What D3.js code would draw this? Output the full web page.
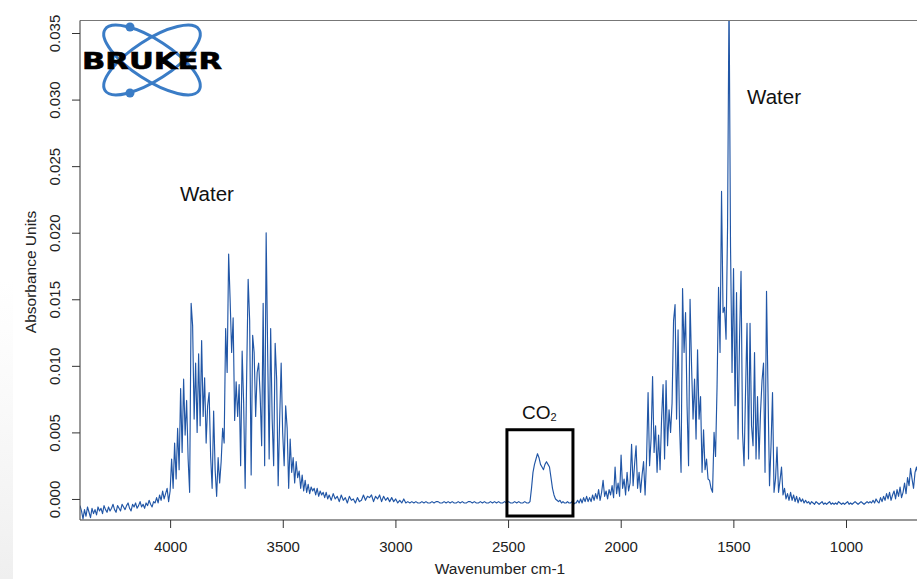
<!DOCTYPE html>
<html><head><meta charset="utf-8">
<script src="https://cdn.jsdelivr.net/npm/d3@7"></script>
<style>body{margin:0;background:#fff}svg{display:block;font-family:"Liberation Sans",Arial,sans-serif}</style>
</head><body><svg id="c" width="917" height="579"></svg>
<script>
// ---- data (absorbance values in units of 1e-4 AU) ----
const baseLeftAbs=[-5,-9,-15,-8,-13,-6,-10,-14,-7,-11,-8,-12,-6,-9,-7,-11,-5,-8,-10,-6,-9,-7,-4,-8,-10,-5,-7,-9,-4,-6,-8,-5,-3,-7,-9,-4,-6,-3,-7,-5,-2,-6,-4,-7,-3,-5,-1,-4,-6,-2,-3,1,-3,3,-1,6,0,4,8,-2,6];
const band1Abs=[6,30,8,42,15,53,22,83,35,90,48,74,30,5,147,130,60,102,50,109,55,119,62,91,42,70,80,32,8,66,22,2,31,12,28,53,42,128,95,184,149,110,136,59,88,62,86,25,111,72,8,92,165,134,18,123,110,62,95,102,78,40,147,25,200,110,30,128,60,25,117,90,10,60,102,50,25,70,53,8,45,20,31,12,28,16,21,8,18,6,14,5,11,4,9,6,8,3,8,2,6,3,5,1,5,0,3];
const midFlatAbs=[3,-1,4,0,2,-2,3,-1,1,-3,2,-1,0,-3,1,-2,-1,3,-1,2,1,3,-2,2,0,3,-2,2,-1,1,-2,1,-2,0,-3,-1,-3,0,-3,-2,-3,-2,-3,-2,-3,-3,-2,-3,-2,-3,-3,-2,-3,-2,-2,-3,-3,-2,-3,-2,-3,-2,-3,-3,-2,-3,-2,-3,-3,-2,-2,-3,-2,-3,-3,-2,-3,-2,-3,-3,-2,-3,-2,-3,-2,-3,-3,-2,-3,-2,-3,-3,-2,-3,-2,-3,-3,-2,-3];
const co2Abs=[-3,-3,-2,8,20,26,30,34,31,26,24,22,26,28,26,24,16,8,3,0,-1,-2,-1,-3,-2,-3,-3,-2,-3,-3,-2,-4,-3];
const band2Abs=[-3,-1,-3,0,-3,1,-2,2,-2,1,-2,3,-1,4,0,7,-1,5,14,2,6,0,7,3,10,1,24,4,12,2,33,8,15,3,20,6,12,41,10,26,40,8,20,5,18,28,3,30,80,25,45,92,35,55,20,48,22,60,86,30,89,40,67,50,72,134,146,60,127,55,20,158,110,140,70,25,150,100,60,90,45,112,60,77,20,52,22,30,15,14,8,5,50,32,84,159,110,231,140,144,120,203,380,189,95,173,70,155,45,120,171,50,25,80,132,30,132,55,40,110,30,77,30,65,89,102,20,156,80,10,40,80,5,15,39,5,14,24,3,8,0,4,-1];
const baseRightAbs=[5,-1,3,-2,2,-3,1,-2,0,-3,-1,-3,-2,-4,-2,-3,-4,-2,-3,-4,-3,-2,-4,-3,-4,-3,-2,-4,-3,-4,-3,-4,-2,-3,-4,-3,-4,-3,-2,-4,-3,-4,-3,-2,-3,-4,-3,-2,-3,-4,-3,-2,-3,-2,-3,-1,-3,0,-2,-3,1,-2,2,-1,4,0,5,-1,3,6,0,7,2,9,1,5,12,4,16,10,23,15,8,20,24,18,30,26];
// wavenumber span (cm-1) covered by each segment
const segFrom=[4400,4000,3294,2416,2198,1246];
const segTo  =[4000,3294,2417,2203,1253,667];
const xTicks=[4000,3500,3000,2500,2000,1500,1000];
const yTicks=[0,0.005,0.010,0.015,0.020,0.025,0.030,0.035];
const yTickLabels=["0.000","0.005","0.010","0.015","0.020","0.025","0.030","0.035"];
const labels=[{t:"Water",wn:3956,a:0.02238},{t:"Water",wn:1439,a:0.02967}];
const co2Label={wn:2438,a:0.0060};
const co2Box={wn0:2505,wn1:2212,a0:0.0052,a1:-0.00128};

const segVals=[baseLeftAbs,band1Abs,midFlatAbs,co2Abs,band2Abs,baseRightAbs];
const spectrum=[];
segVals.forEach((vals,s)=>{
  const n=vals.length;
  vals.forEach((v,i)=>spectrum.push({wn:segFrom[s]+(segTo[s]-segFrom[s])*i/(n-1),a:v*1e-4}));
});

const svg=d3.select("#c");
const L=80,R=920,T=20.5,B=520;
const x=d3.scaleLinear().domain([4400,671.6]).range([L,R]);
const y=d3.scaleLinear().domain([-0.00158,0.03594]).range([B,T]);

// faint grey strip on left edge
const defs=svg.append("defs");
const g1=defs.append("linearGradient").attr("id","lg").attr("x1",0).attr("x2",0).attr("y1",0).attr("y2",1);
g1.append("stop").attr("offset","0").attr("stop-color","#f3f3f3").attr("stop-opacity",0);
g1.append("stop").attr("offset","1").attr("stop-color","#efefef").attr("stop-opacity",1);
svg.append("rect").attr("x",0).attr("y",280).attr("width",13).attr("height",299).attr("fill","url(#lg)");

defs.append("clipPath").attr("id","clip").append("rect").attr("x",L).attr("y",T).attr("width",R-L).attr("height",B-T);

// spectrum
svg.append("path").datum(spectrum).attr("clip-path","url(#clip)")
  .attr("fill","none").attr("stroke","#2156a6").attr("stroke-width",1.15).attr("stroke-linejoin","round")
  .attr("d",d3.line().x(d=>x(d.wn)).y(d=>y(d.a)));

// frame
svg.append("line").attr("x1",L).attr("x2",917).attr("y1",T).attr("y2",T).attr("stroke","#777").attr("stroke-width",1.2);
svg.append("line").attr("x1",L).attr("x2",917).attr("y1",B).attr("y2",B).attr("stroke","#333").attr("stroke-width",1.2);
svg.append("line").attr("x1",L).attr("x2",L).attr("y1",T).attr("y2",B).attr("stroke","#555").attr("stroke-width",1.2);

// x axis
const xa=svg.append("g").attr("transform",`translate(0,${B})`)
  .call(d3.axisBottom(x).tickValues(xTicks).tickSize(8).tickSizeOuter(0).tickFormat(d3.format("d")));
xa.select(".domain").remove();
xa.selectAll("line").attr("stroke","#333");
xa.selectAll("text").attr("font-size",15).attr("fill","#222").attr("dy",0).attr("y",32)
  .attr("font-family","'Liberation Sans',Arial,sans-serif");

// y axis
const ya=svg.append("g").attr("transform",`translate(${L},0)`)
  .call(d3.axisLeft(y).tickValues(yTicks).tickSize(8).tickSizeOuter(0).tickFormat((d,i)=>yTickLabels[i]));
ya.select(".domain").remove();
ya.selectAll("line").attr("stroke","#333");
ya.selectAll("text").attr("font-size",15).attr("fill","#222")
  .attr("font-family","'Liberation Sans',Arial,sans-serif")
  .attr("x",null).attr("dy",null).attr("text-anchor","middle")
  .attr("transform","translate(-20,0) rotate(-90)");

// axis titles
svg.append("text").attr("x",500).attr("y",574).attr("text-anchor","middle").attr("font-size",15.5).attr("fill","#222").text("Wavenumber cm-1");
svg.append("text").attr("transform","translate(36,272) rotate(-90)").attr("text-anchor","middle").attr("font-size",15.5).attr("fill","#222").text("Absorbance Units");

// annotations
labels.forEach(l=>svg.append("text").attr("x",x(l.wn)).attr("y",y(l.a)).attr("font-size",20.5).attr("fill","#111").text(l.t));
const ct=svg.append("text").attr("x",x(co2Label.wn)).attr("y",y(co2Label.a)).attr("font-size",19).attr("fill","#111");
ct.append("tspan").text("CO");
ct.append("tspan").attr("font-size",11).attr("dy",2).text("2");
svg.append("rect").attr("x",x(co2Box.wn0)).attr("y",y(co2Box.a0))
  .attr("width",x(co2Box.wn1)-x(co2Box.wn0)).attr("height",y(co2Box.a1)-y(co2Box.a0))
  .attr("fill","none").attr("stroke","#000").attr("stroke-width",3);

// Bruker logo
const lg=svg.append("g");
lg.append("ellipse").attr("cx",152).attr("cy",60).attr("rx",56).attr("ry",20).attr("transform","rotate(33,152,60)")
  .attr("fill","none").attr("stroke","#3a7cc6").attr("stroke-width",3);
lg.append("ellipse").attr("cx",152).attr("cy",60).attr("rx",56).attr("ry",20).attr("transform","rotate(-33,152,60)")
  .attr("fill","none").attr("stroke","#3a7cc6").attr("stroke-width",3);
lg.append("circle").attr("cx",130).attr("cy",27).attr("r",4.5).attr("fill","#3a7cc6");
lg.append("circle").attr("cx",130).attr("cy",93).attr("r",4.5).attr("fill","#3a7cc6");
lg.append("text").attr("x",82).attr("y",69).attr("font-family","'DejaVu Sans',sans-serif").attr("font-weight",900)
  .attr("font-size",23).attr("textLength",140).attr("lengthAdjust","spacingAndGlyphs").attr("fill","#000")
  .attr("stroke","#000").attr("stroke-width",0.6).text("BRUKER");
</script></body></html>
